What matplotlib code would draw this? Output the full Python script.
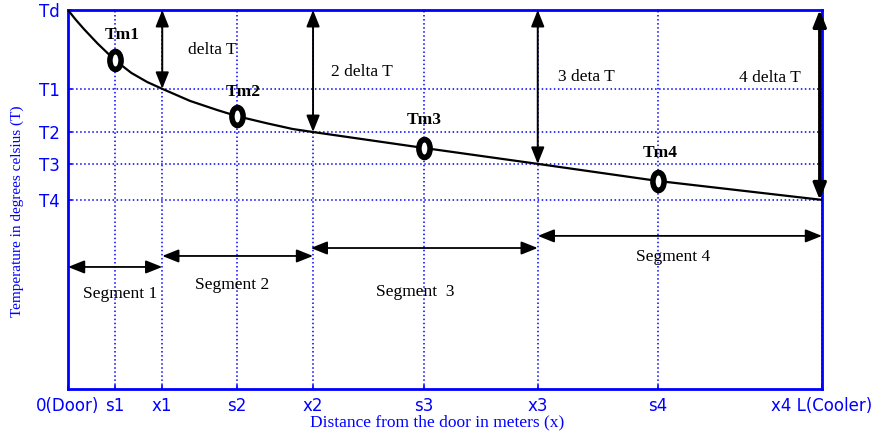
import matplotlib.pyplot as plt
from matplotlib.markers import MarkerStyle
from matplotlib.transforms import Affine2D

# tick positions (distance along the cooler, arbitrary units 0..100)
x_ticks = [0, 6.2, 12.5, 22.4, 32.5, 47.2, 62.3, 78.2, 100]
x_labels = ["0(Door)", "s1", "x1", "s2", "x2", "s3", "x3", "s4", "x4 L(Cooler)"]

# temperature levels (arbitrary units, Td on top)
y_ticks = [49.9, 59.4, 67.8, 79.2, 100]
y_labels = ["T4", "T3", "T2", "T1", "Td"]

# temperature profile
curve_x = [0, 1.0, 2.1, 3.9, 6.2, 8.4, 10.5, 12.5, 16.2, 19.8, 22.4, 26.4, 29.8, 32.5,
           47.2, 62.3, 78.2, 100]
curve_y = [100, 97.5, 95.0, 91.2, 86.8, 83.4, 81.0, 79.2, 76.0, 73.6, 72.0, 70.1, 68.6, 67.8,
           63.6, 59.4, 54.9, 49.9]

# mid-segment temperatures Tm1..Tm4
tm_x = [6.2, 22.4, 47.2, 78.2]
tm_y = [86.8, 72.0, 63.6, 54.9]
tm_names = ["Tm1", "Tm2", "Tm3", "Tm4"]

# delta T arrows (x position, lower end)
dt_x = [12.5, 32.5, 62.3, 99.7]
dt_y = [79.2, 67.8, 59.4, 49.9]
dt_names = ["delta T", "2 delta T", "3 deta T", "4 delta T"]

# segment arrows (start, end, height)
seg_start = [0, 12.5, 32.2, 62.3]
seg_end = [12.5, 32.5, 62.3, 100]
seg_y = [32.2, 35.1, 37.2, 40.4]
seg_names = ["Segment 1", "Segment 2", "Segment  3", "Segment 4"]

blue = "#0000ff"
serif = ["Liberation Serif", "DejaVu Serif"]

fig = plt.figure(figsize=(8.8, 4.36), dpi=100)
ax = fig.add_axes([68 / 880, 1 - 389 / 436, 754 / 880, 379 / 436])

ax.plot(curve_x, curve_y, color="black", linewidth=1.6, zorder=3)

oval = MarkerStyle("o", transform=Affine2D().scale(0.62, 1.0))
ax.plot(tm_x, tm_y, linestyle="none", marker=oval, markersize=13,
        markerfacecolor="white", markeredgecolor="black", markeredgewidth=4, zorder=4)

tm_label_off = [(1.0, 6.6), (0.9, 6.4), (0.1, 7.4), (0.3, 7.4)]
for name, xv, yv, off in zip(tm_names, tm_x, tm_y, tm_label_off):
    ax.text(xv + off[0], yv + off[1], name, ha="center", va="center",
            fontsize=12.5, fontweight="bold", family=serif)

dt_text_pos = [(19.1, 89.4), (39.0, 83.6), (68.8, 82.3), (93.1, 82.1)]
for i, (name, xv, yv) in enumerate(zip(dt_names, dt_x, dt_y)):
    ax.annotate("", xy=(xv, 100), xytext=(xv, yv),
                arrowprops=dict(arrowstyle="<|-|>,head_length=1.0,head_width=0.4",
                                color="black", lw=2.4 if i == 3 else 1.4,
                                shrinkA=0, shrinkB=0), zorder=5)
    ax.text(dt_text_pos[i][0], dt_text_pos[i][1], name, ha="center", va="center",
            fontsize=12.5, family=serif)

seg_text_pos = [(6.9, 25.1), (21.8, 27.4), (46.0, 25.6), (80.2, 34.8)]
for i, (name, x0, x1, yv) in enumerate(zip(seg_names, seg_start, seg_end, seg_y)):
    ax.annotate("", xy=(x0, yv), xytext=(x1, yv),
                arrowprops=dict(arrowstyle="<|-|>,head_length=1.0,head_width=0.4",
                                color="black", lw=1.3, shrinkA=0, shrinkB=0), zorder=5)
    ax.text(seg_text_pos[i][0], seg_text_pos[i][1], name, ha="center", va="center",
            fontsize=12.5, family=serif)

ax.set_xlim(0, 100)
ax.set_ylim(0, 100)
ax.set_xticks(x_ticks)
ax.set_xticklabels(x_labels)
ax.set_yticks(y_ticks)
ax.set_yticklabels(y_labels)
ax.tick_params(colors=blue, labelcolor=blue, labelsize=12, direction="in",
               length=3, width=1.2, pad=6)
for lab in ax.get_xticklabels() + ax.get_yticklabels():
    lab.set_family(["DejaVu Sans"])

ax.grid(True, color=blue, linestyle=":", linewidth=1.1)
for s in ax.spines.values():
    s.set_color(blue)
    s.set_linewidth(2)

ax.set_xlabel("Distance from the door in meters (x)", color=blue, fontsize=12.5,
              family=serif)
ax.set_ylabel("Temperature in degrees celsius (T)", color=blue, fontsize=11,
              family=serif)
ax.yaxis.set_label_coords(-0.058, 0.47)
ax.xaxis.set_label_coords(0.49, -0.068)

fig.savefig("out.png", dpi=100)
